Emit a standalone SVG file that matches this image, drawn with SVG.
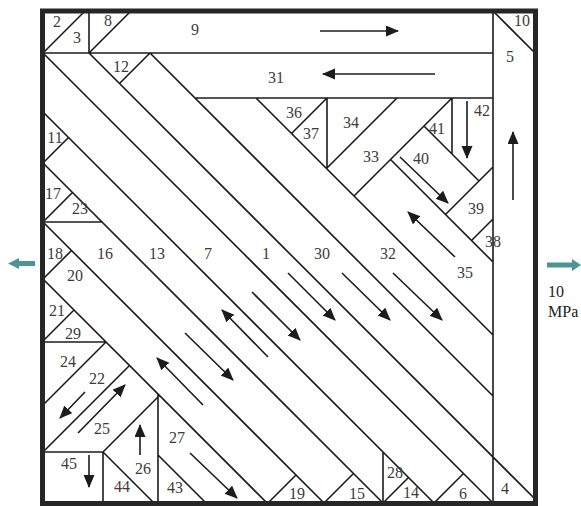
<svg xmlns="http://www.w3.org/2000/svg" width="581" height="506" viewBox="0 0 581 506">
<defs>
<style>
.ln{stroke:#1c1c1c;stroke-width:1.6;fill:none;stroke-linecap:round}
.ar{stroke:#1c1c1c;stroke-width:1.6;fill:none;marker-end:url(#ah)}
.lb{font-family:"Liberation Serif","Times New Roman",serif;font-size:16px;fill:#3c3c3c;text-anchor:middle}
.tl{fill:#4a9595}
.ext{font-family:"Liberation Serif","Times New Roman",serif;font-size:16px;fill:#222}
</style>
<marker id="ah" markerUnits="userSpaceOnUse" markerWidth="14" markerHeight="12" refX="12" refY="5.5" orient="auto"><path d="M0,0 L13,5.5 L0,11 Z" fill="#1c1c1c"/></marker>
</defs>
<rect width="581" height="506" fill="#fff"/>
<g id="boundaries" class="ln">
<path d="M43,53 H493 M195,98 H493 M43,222 H102 M43,342 H106 M43,452 H103
M89,11 V53 M493,11 V503 M327,98 V169 M452,98 V154 M103,452 V503 M158,394 V503 M383,452 V503
M43,53 L493,503 M89,53 L536,500 M43,112 L434,503 M43,163 L383,503 M43,222 L324,503 M43,279 L267,503
M150,53 L493,396 M256,98 L493,335 M390.5,159.5 L493,262 M424,126 L479,181 M493,11 L536,54
M103,452 L154,503 M158,455 L206,503
M43,53 L85,11 M89,53 L131,11 M119.5,83.5 L150,53 M291.5,133.5 L327,98 M326.5,168.5 L397,98
M354,196 L452,98 M445.5,214.5 L493,167 M471.5,240.5 L493,219
M43,163 L68.5,137.5 M43,222 L72.5,192.5 M43,279 L71.5,250.5 M43,341 L74,310 M43,405 L106,342
M43,452 L129.5,365.5 M103,452 L159.5,395.5
M268,503 L296,475 M324,503 L353.5,473.5 M383,503 L408.5,477.5 M434,503 L463.5,473.5"/>
</g>
<rect x="42.5" y="11" width="493" height="492.5" fill="none" stroke="#262626" stroke-width="5"/>
<g id="n2"><text class="lb" x="57" y="27">2</text></g>
<g id="n3"><text class="lb" x="77" y="43">3</text></g>
<g id="n8"><text class="lb" x="108" y="26">8</text></g>
<g id="n9"><text class="lb" x="195" y="35">9</text><line class="ar" x1="320" y1="31" x2="398" y2="31"/></g>
<g id="n10"><text class="lb" x="522" y="26">10</text></g>
<g id="n5"><text class="lb" x="510" y="62">5</text><line class="ar" x1="513" y1="200" x2="513" y2="132"/></g>
<g id="n12"><text class="lb" x="121" y="72">12</text></g>
<g id="n31"><text class="lb" x="276" y="83">31</text><line class="ar" x1="435" y1="74" x2="323" y2="74"/></g>
<g id="n36"><text class="lb" x="294" y="118">36</text></g>
<g id="n37"><text class="lb" x="311" y="139">37</text></g>
<g id="n34"><text class="lb" x="351" y="128">34</text></g>
<g id="n33"><text class="lb" x="371" y="162">33</text></g>
<g id="n41"><text class="lb" x="437" y="134">41</text></g>
<g id="n40"><text class="lb" x="421" y="164">40</text><line class="ar" x1="400" y1="157" x2="448" y2="203"/></g>
<g id="n42"><text class="lb" x="482" y="116">42</text><line class="ar" x1="467" y1="101" x2="467" y2="158"/></g>
<g id="n39"><text class="lb" x="476" y="214">39</text></g>
<g id="n38"><text class="lb" x="493" y="247">38</text></g>
<g id="n11"><text class="lb" x="55" y="143">11</text></g>
<g id="n17"><text class="lb" x="53" y="199">17</text></g>
<g id="n23"><text class="lb" x="80" y="214">23</text></g>
<g id="n18"><text class="lb" x="55" y="259">18</text></g>
<g id="n16"><text class="lb" x="105" y="259">16</text><line class="ar" x1="185" y1="333" x2="233" y2="380"/></g>
<g id="n13"><text class="lb" x="157" y="259">13</text><line class="ar" x1="268" y1="357" x2="222" y2="310"/></g>
<g id="n7"><text class="lb" x="208" y="259">7</text><line class="ar" x1="252" y1="292" x2="300" y2="340"/></g>
<g id="n1"><text class="lb" x="266" y="259">1</text><line class="ar" x1="288" y1="273" x2="335" y2="320"/></g>
<g id="n30"><text class="lb" x="322" y="259">30</text><line class="ar" x1="342" y1="273" x2="390" y2="320"/></g>
<g id="n32"><text class="lb" x="388" y="259">32</text><line class="ar" x1="393" y1="273" x2="442" y2="320"/></g>
<g id="n35"><text class="lb" x="465" y="278">35</text><line class="ar" x1="455" y1="257" x2="408" y2="212"/></g>
<g id="n20"><text class="lb" x="75" y="281">20</text><line class="ar" x1="203" y1="405" x2="157" y2="358"/></g>
<g id="n21"><text class="lb" x="57" y="316">21</text></g>
<g id="n29"><text class="lb" x="73" y="339">29</text></g>
<g id="n24"><text class="lb" x="68" y="367">24</text></g>
<g id="n22"><text class="lb" x="97" y="384">22</text><line class="ar" x1="85" y1="392" x2="60" y2="418"/></g>
<g id="n25"><text class="lb" x="102" y="434">25</text><line class="ar" x1="78" y1="433" x2="125" y2="385"/></g>
<g id="n45"><text class="lb" x="69" y="469">45</text><line class="ar" x1="89" y1="455" x2="89" y2="487"/></g>
<g id="n26"><text class="lb" x="143" y="474">26</text><line class="ar" x1="140" y1="455" x2="140" y2="425"/></g>
<g id="n44"><text class="lb" x="122" y="492">44</text></g>
<g id="n27"><text class="lb" x="177" y="443">27</text><line class="ar" x1="190" y1="453" x2="237" y2="498"/></g>
<g id="n43"><text class="lb" x="175" y="493">43</text></g>
<g id="n19"><text class="lb" x="297" y="499">19</text></g>
<g id="n15"><text class="lb" x="357" y="499">15</text></g>
<g id="n28"><text class="lb" x="395" y="478">28</text></g>
<g id="n14"><text class="lb" x="411" y="498">14</text></g>
<g id="n6"><text class="lb" x="463" y="499">6</text></g>
<g id="n4"><text class="lb" x="505" y="494">4</text></g>
<g id="load-left"><path class="tl" d="M35,261 H19 V258 L8,263.5 L19,269 V266 H35 Z"/></g>
<g id="load-right"><path class="tl" d="M547,262.5 H572 V259 L581,265 L572,271 V267.5 H547 Z"/><text class="ext" x="548" y="297">10</text><text class="ext" x="548" y="317">MPa</text></g>
</svg>
